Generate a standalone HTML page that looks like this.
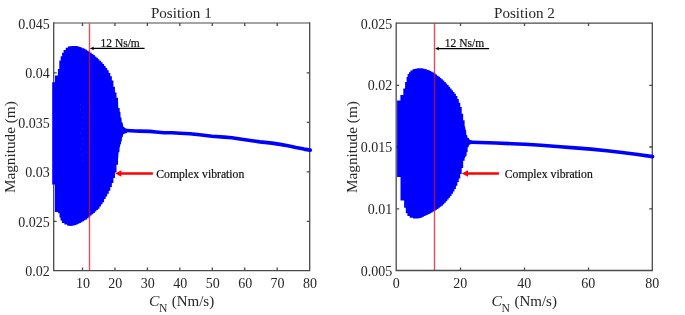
<!DOCTYPE html>
<html><head><meta charset="utf-8">
<style>
html,body{margin:0;padding:0;background:#fff;overflow:hidden;}
svg{display:block;will-change:transform;filter:blur(0.3px);}
text{font-family:"Liberation Serif",serif;fill:#262626;stroke:none;}
.t{font-size:14px;}
.tl{font-size:15px;}
.an{font-size:11.5px;fill:#111;stroke:#111;stroke-width:0.2px;}
</style></head><body>
<svg width="685" height="315" viewBox="0 0 685 315">
<rect width="685" height="315" fill="#fff"/>
<g>
<g stroke="#4a4a4a" stroke-width="1.3" fill="none"><path d="M309.7,23.0 V270.6 H53.7 V23.0" stroke-linecap="square"/><path d="M53.7,23.0 H309.7" stroke-width="1.05"/><path d="M82.5,270.6v-3.0 M82.5,23.0v3.0 M114.95,270.6v-3.0 M114.95,23.0v3.0 M147.4,270.6v-3.0 M147.4,23.0v3.0 M179.85,270.6v-3.0 M179.85,23.0v3.0 M212.3,270.6v-3.0 M212.3,23.0v3.0 M244.75,270.6v-3.0 M244.75,23.0v3.0 M277.2,270.6v-3.0 M277.2,23.0v3.0 M53.7,221.35h3.0 M309.7,221.35h-3.0 M53.7,171.85h3.0 M309.7,171.85h-3.0 M53.7,122.35h3.0 M309.7,122.35h-3.0 M53.7,72.85h3.0 M309.7,72.85h-3.0"/></g>
<polygon fill="#0000ff" points="52.20,82.30 55.00,82.30 55.00,75.60 57.90,75.60 57.90,69.10 59.30,69.10 59.30,60.60 60.70,60.60 60.70,56.30 62.10,56.30 62.10,52.70 63.60,52.70 63.60,49.90 65.70,49.90 65.70,47.70 67.90,47.70 67.90,46.60 70.00,46.20 73.00,45.90 77.00,46.10 80.00,46.90 80.85,46.90 80.85,47.45 82.40,47.45 82.40,48.16 83.95,48.16 83.95,48.87 85.50,48.87 85.50,49.78 87.05,49.78 87.05,50.73 88.60,50.73 88.60,51.68 90.15,51.68 90.15,52.82 91.70,52.82 91.70,53.95 93.25,53.95 93.25,55.11 94.80,55.11 94.80,56.48 96.35,56.48 96.35,57.86 97.90,57.86 97.90,59.27 99.45,59.27 99.45,60.78 101.00,60.78 101.00,62.30 102.55,62.30 102.55,63.97 104.10,63.97 104.10,65.94 105.65,65.94 105.65,67.91 107.20,67.91 107.20,70.29 108.75,70.29 108.75,73.07 110.30,73.07 110.30,76.25 111.85,76.25 111.85,80.50 113.40,80.50 113.40,86.70 114.95,86.70 114.95,92.54 116.50,92.54 116.50,97.75 118.00,97.75 118.00,100.00 118.30,108.00 119.60,108.00 119.80,112.00 120.40,112.00 120.60,117.50 121.40,117.50 121.80,122.50 122.60,122.50 123.20,126.50 124.20,127.20 125.50,128.30 127.00,129.00 127.00,133.00 125.50,133.30 123.80,134.00 123.00,134.60 122.80,137.00 122.00,137.20 121.70,141.40 121.10,141.60 121.00,144.20 120.20,144.40 120.00,147.00 119.60,147.20 119.40,152.00 118.60,152.20 118.30,156.00 118.30,157.67 118.05,157.67 118.05,164.83 116.50,164.83 116.50,172.58 114.95,172.58 114.95,177.95 113.40,177.95 113.40,182.93 111.85,182.93 111.85,187.09 110.30,187.09 110.30,190.68 108.75,190.68 108.75,193.85 107.20,193.85 107.20,196.44 105.65,196.44 105.65,199.08 104.10,199.08 104.10,202.25 102.55,202.25 102.55,204.21 101.00,204.21 101.00,206.49 99.45,206.49 99.45,208.71 97.90,208.71 97.90,210.10 96.35,210.10 96.35,211.49 94.80,211.49 94.80,212.88 93.25,212.88 93.25,214.13 91.70,214.13 91.70,215.39 90.15,215.39 90.15,216.64 88.60,216.64 88.60,218.25 87.05,218.25 87.05,219.39 85.50,219.39 85.50,220.34 83.95,220.34 83.95,221.27 82.40,221.27 82.40,222.19 80.85,222.19 80.85,223.01 79.30,223.01 79.30,223.79 77.75,223.79 77.75,224.48 76.20,224.48 76.20,225.11 74.65,225.11 74.65,225.55 73.10,225.55 73.10,225.85 71.55,225.85 71.55,226.00 71.50,226.00 71.50,226.00 68.40,225.80 67.10,225.50 67.10,224.60 64.30,224.60 64.30,222.90 61.90,222.90 61.90,220.50 60.50,220.50 60.50,217.60 59.50,217.60 59.50,213.30 58.10,213.30 58.10,211.90 54.90,211.90 54.90,184.50 52.20,184.50"/>
<polyline fill="none" stroke="#0000ff" stroke-width="3.6" stroke-linecap="round" stroke-linejoin="round" points="126,130.5 131,130.8 135,131 140,131.1 150,131.4 156,132 164,132.7 172,132.8 180,133.2 190,133.7 199.6,134.8 212,136.2 224.4,137.1 232,137.7 240,138.95 252,140.7 260,141.9 272,143.1 280,144.4 288,145.7 296,147.5 304,149.1 310.2,150.1"/>
<g fill="#fff" fill-opacity="0.12"><circle cx="82.6" cy="102.1" r="0.7"/><circle cx="80.5" cy="104.5" r="0.7"/><circle cx="82.8" cy="107.4" r="0.7"/><circle cx="80.7" cy="109.5" r="0.7"/><circle cx="82.8" cy="112.6" r="0.7"/><circle cx="82.6" cy="117.7" r="0.7"/><circle cx="82.6" cy="123.1" r="0.7"/><circle cx="82.4" cy="128.5" r="0.7"/><circle cx="80.8" cy="133" r="0.7"/><circle cx="82.6" cy="138.5" r="0.7"/><circle cx="82.5" cy="144" r="0.7"/><circle cx="80.9" cy="149" r="0.7"/><circle cx="82.6" cy="155" r="0.7"/><circle cx="82.7" cy="161" r="0.7"/></g>
<line x1="89.5" y1="23.5" x2="89.5" y2="270" stroke="rgb(210,20,30)" stroke-opacity="0.75" stroke-width="1.4"/>
<g class="t" text-anchor="middle"><text x="82.9" y="287.5">10</text><text x="115.35" y="287.5">20</text><text x="147.8" y="287.5">30</text><text x="180.25" y="287.5">40</text><text x="212.7" y="287.5">50</text><text x="245.15" y="287.5">60</text><text x="277.6" y="287.5">70</text><text x="310.05" y="287.5">80</text></g>
<g class="t" text-anchor="end"><text x="49.8" y="275.85">0.02</text><text x="49.8" y="226.95">0.025</text><text x="49.8" y="176.95">0.03</text><text x="49.8" y="127.85">0.035</text><text x="49.8" y="78.0">0.04</text><text x="49.8" y="28.6">0.045</text></g>
<text class="tl" x="181.3" y="17.7" text-anchor="middle" style="font-size:15.1px">Position 1</text>
<text class="tl" transform="translate(14.7,147.15) rotate(-90)" text-anchor="middle" style="font-size:15.25px">Magnitude (m)</text>
<text class="tl" x="148.9" y="305.7" font-style="italic" style="font-size:15.6px">C</text><text x="158.9" y="312.4" style="font-size:11.6px">N</text><text class="tl" x="171.7" y="305.6">(Nm/s)</text>
<text class="an" x="100.5" y="46.5">12 Ns/m</text>
<line x1="93" y1="48.4" x2="144.6" y2="48.4" stroke="#000" stroke-width="1.1"/>
<path d="M89.9,48.4 L94,46.6 L93.2,48.4 L94,50.2 Z" fill="#000"/>
<line x1="120" y1="173.5" x2="152.9" y2="173.5" stroke="#ff0000" stroke-width="2.6"/>
<polygon points="115.1,173.5 121.4,170.2 121.4,176.8" fill="#ff0000"/>
<text class="an" x="156.3" y="177.5" style="font-size:11.7px">Complex vibration</text>
</g>
<g>
<g stroke="#4a4a4a" stroke-width="1.3" fill="none"><path d="M652.3,23.1 V270.5 H396.2 V23.1" stroke-linecap="square"/><path d="M396.2,23.1 H652.3" stroke-width="1.05"/><path d="M460.5,270.5v-3.0 M460.5,23.1v3.0 M524.5,270.5v-3.0 M524.5,23.1v3.0 M588.5,270.5v-3.0 M588.5,23.1v3.0 M396.2,208.8h3.0 M652.3,208.8h-3.0 M396.2,147.0h3.0 M652.3,147.0h-3.0 M396.2,85.3h3.0 M652.3,85.3h-3.0"/></g>
<polygon fill="#0000ff" points="397.10,100.60 400.40,100.60 400.40,94.90 403.30,94.90 403.30,88.40 405.10,88.40 405.10,82.00 406.60,82.00 406.60,77.00 407.60,77.00 407.60,74.10 409.00,74.10 409.00,72.30 410.40,72.30 410.40,70.60 412.60,70.60 412.60,69.30 416.00,68.70 418.00,68.30 422.00,68.20 425.00,68.97 425.45,68.97 425.45,69.27 426.90,69.27 426.90,69.74 428.35,69.74 428.35,70.20 429.80,70.20 429.80,70.93 431.25,70.93 431.25,71.74 432.70,71.74 432.70,72.55 434.15,72.55 434.15,73.47 435.60,73.47 435.60,74.60 437.05,74.60 437.05,75.73 438.50,75.73 438.50,76.86 439.95,76.86 439.95,78.10 441.40,78.10 441.40,79.36 442.85,79.36 442.85,80.62 444.30,80.62 444.30,82.02 445.75,82.02 445.75,83.47 447.20,83.47 447.20,84.92 448.65,84.92 448.65,86.64 450.10,86.64 450.10,88.44 451.55,88.44 451.55,90.25 453.00,90.25 453.00,92.05 454.45,92.05 454.45,93.85 455.90,93.85 455.90,96.05 457.35,96.05 457.35,98.95 458.80,98.95 458.80,102.64 460.25,102.64 460.25,106.96 461.70,106.96 461.70,113.70 463.15,113.70 463.15,120.13 464.60,120.13 464.60,126.27 465.00,126.27 465.60,130.00 466.10,130.20 466.30,135.00 467.20,135.20 467.50,137.80 468.70,138.00 469.50,139.60 470.50,140.20 472.20,140.60 472.20,143.90 470.50,144.30 469.50,144.80 468.90,145.00 468.70,147.00 467.70,147.20 467.60,152.00 466.70,152.20 466.50,156.00 465.80,156.20 465.00,157.50 465.00,158.06 464.60,158.06 464.60,160.73 463.15,160.73 463.15,168.01 461.70,168.01 461.70,174.05 460.25,174.05 460.25,178.41 458.80,178.41 458.80,182.10 457.35,182.10 457.35,185.74 455.90,185.74 455.90,189.08 454.45,189.08 454.45,191.43 453.00,191.43 453.00,193.73 451.55,193.73 451.55,195.94 450.10,195.94 450.10,197.76 448.65,197.76 448.65,199.57 447.20,199.57 447.20,201.33 445.75,201.33 445.75,202.78 444.30,202.78 444.30,204.23 442.85,204.23 442.85,205.66 441.40,205.66 441.40,206.74 439.95,206.74 439.95,207.83 438.50,207.83 438.50,208.92 437.05,208.92 437.05,209.82 435.60,209.82 435.60,210.72 434.15,210.72 434.15,211.62 432.70,211.62 432.70,212.42 431.25,212.42 431.25,213.21 429.80,213.21 429.80,214.00 428.35,214.00 428.35,214.67 426.90,214.67 426.90,215.31 425.45,215.31 425.45,215.96 424.00,215.96 424.00,216.78 422.55,216.78 422.55,217.62 421.10,217.62 421.10,217.97 419.65,217.97 419.65,218.27 418.60,218.27 418.60,218.40 413.00,218.60 413.00,217.80 409.70,217.80 409.70,216.10 407.40,216.10 407.40,213.30 405.80,213.30 405.80,207.80 404.10,207.80 404.10,200.60 400.50,200.60 400.50,177.10 397.10,177.10"/>
<polyline fill="none" stroke="#0000ff" stroke-width="3.6" stroke-linecap="round" stroke-linejoin="round" points="471,142.3 480,142.5 496,143 512,143.7 525,144.3 541,145.3 557,146.5 575,147.9 591,149.1 607,150.7 620,152.3 636,154.3 652.6,156.6"/>
<line x1="434.5" y1="23.5" x2="434.5" y2="270" stroke="rgb(210,20,30)" stroke-opacity="0.75" stroke-width="1.4"/>
<g class="t" text-anchor="middle"><text x="396.3" y="287.5">0</text><text x="460.3" y="287.5">20</text><text x="524.3" y="287.5">40</text><text x="588.3" y="287.5">60</text><text x="652.3" y="287.5">80</text></g>
<g class="t" text-anchor="end"><text x="392.2" y="276.0">0.005</text><text x="392.2" y="214.2">0.01</text><text x="392.2" y="152.4">0.015</text><text x="392.2" y="90.4">0.02</text><text x="392.2" y="28.8">0.025</text></g>
<text class="tl" x="524.4" y="17.7" text-anchor="middle" style="font-size:15.1px">Position 2</text>
<text class="tl" transform="translate(357.1,147.1) rotate(-90)" text-anchor="middle" style="font-size:15.25px">Magnitude (m)</text>
<text class="tl" x="491.6" y="305.7" font-style="italic" style="font-size:15.6px">C</text><text x="501.6" y="312.4" style="font-size:11.6px">N</text><text class="tl" x="514.4" y="305.6">(Nm/s)</text>
<text class="an" x="444.8" y="46.5">12 Ns/m</text>
<line x1="438" y1="48.6" x2="489.1" y2="48.6" stroke="#000" stroke-width="1.1"/>
<path d="M435,48.6 L439.1,46.8 L438.3,48.6 L439.1,50.4 Z" fill="#000"/>
<line x1="466" y1="173.5" x2="498.9" y2="173.5" stroke="#ff0000" stroke-width="2.6"/>
<polygon points="461.7,173.5 468,170.2 468,176.8" fill="#ff0000"/>
<text class="an" x="504.8" y="177.5" style="font-size:11.7px">Complex vibration</text>
</g>
</svg>
</body></html>
